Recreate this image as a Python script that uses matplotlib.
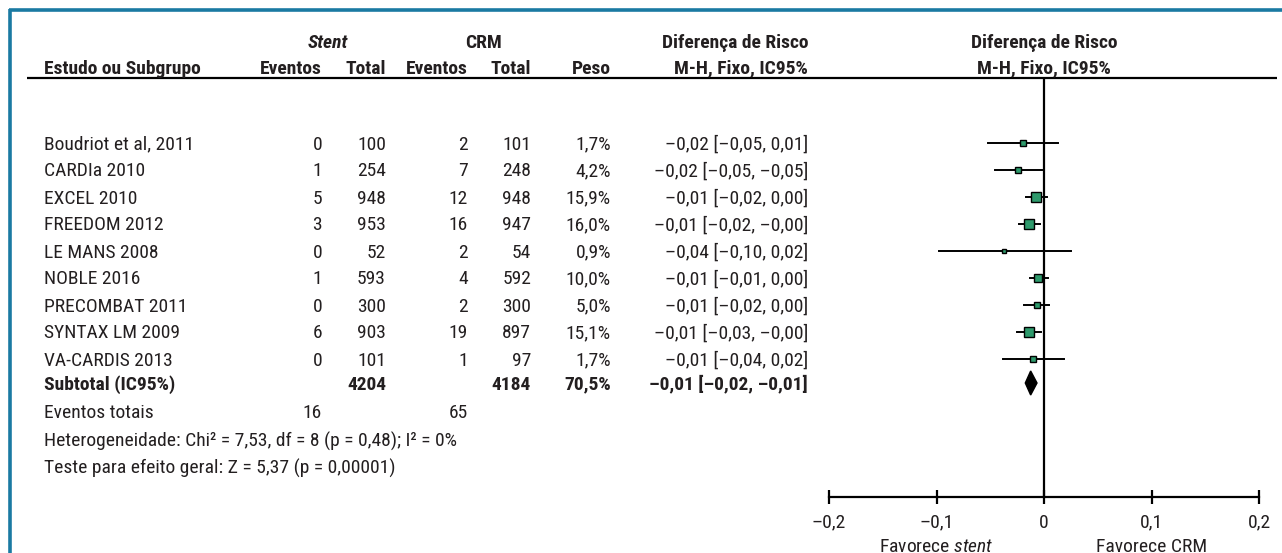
import matplotlib
matplotlib.use("Agg")
import matplotlib.pyplot as plt
from matplotlib import font_manager
from matplotlib.patches import Polygon

# === DADOS ===
estudos = ["Boudriot et al, 2011", "CARDIa 2010", "EXCEL 2010", "FREEDOM 2012",
           "LE MANS 2008", "NOBLE 2016", "PRECOMBAT 2011", "SYNTAX LM 2009",
           "VA-CARDIS 2013"]
eventos_stent = [0, 1, 5, 3, 0, 1, 0, 6, 0]
total_stent = [100, 254, 948, 953, 52, 593, 300, 903, 101]
eventos_crm = [2, 7, 12, 16, 2, 4, 2, 19, 1]
total_crm = [101, 248, 948, 947, 54, 592, 300, 897, 97]
peso = [1.7, 4.2, 15.9, 16.0, 0.9, 10.0, 5.0, 15.1, 1.7]
peso_txt = ["1,7%", "4,2%", "15,9%", "16,0%", "0,9%", "10,0%", "5,0%", "15,1%", "1,7%"]
dr = [-0.020, -0.024, -0.0071, -0.0136, -0.037, -0.0052, -0.0062, -0.0143, -0.0102]
dr_inf = [-0.052, -0.046, -0.0164, -0.0229, -0.098, -0.013, -0.0186, -0.0254, -0.038]
dr_sup = [0.013, -0.002, 0.0025, -0.0037, 0.0248, 0.0037, 0.0048, -0.0025, 0.0183]
dr_txt = ["–0,02 [–0,05, 0,01]", "–0,02 [–0,05, –0,05]", "–0,01 [–0,02, 0,00]",
          "–0,01 [–0,02, –0,00]", "–0,04 [–0,10, 0,02]", "–0,01 [–0,01, 0,00]",
          "–0,01 [–0,02, 0,00]", "–0,01 [–0,03, –0,00]", "–0,01 [–0,04, 0,02]"]

sub_total_stent = 4204
sub_total_crm = 4184
sub_peso = "70,5%"
sub_dr = -0.0124
sub_inf = -0.0174
sub_sup = -0.0065
sub_txt = "–0,01 [–0,02, –0,01]"
eventos_totais = [16, 65]

ticks = [-0.2, -0.1, 0, 0.1, 0.2]
tick_labels = ["–0,2", "–0,1", "0", "0,1", "0,2"]

# === ESTILO ===
# fonte estreita tipo Arial Narrow, se houver
instaladas = {f.name for f in font_manager.fontManager.ttflist}
FONTE = next((n for n in ["Arial Narrow", "Liberation Sans Narrow", "Roboto Condensed",
                          "Archivo Narrow", "PT Sans Narrow", "Sofia Sans Condensed"]
              if n in instaladas), "DejaVu Sans")
plt.rcParams["font.family"] = [FONTE, "DejaVu Sans"]
plt.rcParams["font.stretch"] = "condensed"
plt.rcParams["mathtext.fontset"] = "custom"
plt.rcParams["mathtext.rm"] = FONTE
plt.rcParams["mathtext.it"] = FONTE + ":italic"
FS = 14
COR_TXT = "#231f20"
VERDE = "#2e9a6c"
AZUL = "#1a7aa2"

W, H = 1282, 553
fig = plt.figure(figsize=(W / 100, H / 100), dpi=100)
fig.patch.set_facecolor("white")

# eixo de fundo em pixels para o texto da tabela
ax = fig.add_axes([0, 0, 1, 1])
ax.set_xlim(0, W)
ax.set_ylim(H, 0)
ax.axis("off")

# moldura azul (topo e esquerda)
ax.plot([9, W], [9.5, 9.5], color=AZUL, lw=2.6, solid_capstyle="butt")
ax.plot([9.5, 9.5], [9, H], color=AZUL, lw=2.6, solid_capstyle="butt")

# colunas (borda direita)
X_NOME = 44
X_EV_S, X_TOT_S, X_EV_C, X_TOT_C, X_PESO, X_DR = 322, 386, 468, 531, 611, 808
Y_H1, Y_H2, Y_LINHA = 42, 67, 78
Y0, DY = 143, 27.0
Y_SUB = 383
Y_EVT, Y_HET, Y_TESTE = 412, 440, 467
BASE = 6.5  # deslocamento centro -> linha de base


def txt(x, y, s, ha="right", bold=False, italic=False):
    ax.text(x, y + BASE, s, ha=ha, va="baseline", fontsize=FS, color=COR_TXT,
            fontweight="bold" if bold else "normal",
            fontstyle="italic" if italic else "normal")


# cabeçalho
txt(328, Y_H1, "Stent", ha="center", bold=True, italic=True)
txt(484, Y_H1, "CRM", ha="center", bold=True)
txt(X_DR, Y_H1, "Diferença de Risco", bold=True)
txt(1044, Y_H1, "Diferença de Risco", ha="center", bold=True)
txt(X_NOME, Y_H2, "Estudo ou Subgrupo", ha="left", bold=True)
txt(X_EV_S, Y_H2, "Eventos", bold=True)
txt(X_TOT_S, Y_H2, "Total", bold=True)
txt(X_EV_C, Y_H2, "Eventos", bold=True)
txt(X_TOT_C, Y_H2, "Total", bold=True)
txt(X_PESO, Y_H2, "Peso", bold=True)
txt(X_DR, Y_H2, "M-H, Fixo, IC95%", bold=True)
txt(1044, Y_H2, "M-H, Fixo, IC95%", ha="center", bold=True)
ax.plot([27, 1277], [Y_LINHA, Y_LINHA], color="black", lw=1.6, solid_capstyle="butt")

# linhas dos estudos
linhas_y = [Y0 + DY * i for i in range(len(estudos))]
for i, y in enumerate(linhas_y):
    txt(X_NOME, y, estudos[i], ha="left")
    txt(X_EV_S, y, str(eventos_stent[i]))
    txt(X_TOT_S, y, str(total_stent[i]))
    txt(X_EV_C, y, str(eventos_crm[i]))
    txt(X_TOT_C, y, str(total_crm[i]))
    txt(X_PESO, y, peso_txt[i])
    txt(X_DR, y, dr_txt[i])

# subtotal e estatísticas
txt(X_NOME, Y_SUB, "Subtotal (IC95%)", ha="left", bold=True)
txt(X_TOT_S, Y_SUB, str(sub_total_stent), bold=True)
txt(X_TOT_C, Y_SUB, str(sub_total_crm), bold=True)
txt(X_PESO, Y_SUB, sub_peso, bold=True)
txt(X_DR, Y_SUB, sub_txt, bold=True)
txt(X_NOME, Y_EVT, "Eventos totais", ha="left")
txt(X_EV_S, Y_EVT, str(eventos_totais[0]))
txt(X_EV_C, Y_EVT, str(eventos_totais[1]))
txt(X_NOME, Y_HET, "Heterogeneidade: Chi² = 7,53, df = 8 (p = 0,48); I² = 0%", ha="left")
txt(X_NOME, Y_TESTE, "Teste para efeito geral: Z = 5,37 (p = 0,00001)", ha="left")

# === FOREST PLOT ===
fx = fig.add_axes([829 / W, 0, 430 / W, 1])
fx.set_xlim(-0.2, 0.2)
fx.set_ylim(H, 0)
fx.patch.set_alpha(0)
for s in ["top", "left", "right"]:
    fx.spines[s].set_visible(False)
fx.spines["bottom"].set_position(("data", 497))
fx.spines["bottom"].set_linewidth(1.6)
fx.set_yticks([])
fx.set_xticks(ticks)
fx.set_xticklabels(tick_labels, fontsize=FS, color=COR_TXT)
fx.tick_params(axis="x", direction="inout", length=10, width=1.6, pad=7)

# linha de efeito nulo
fx.vlines(0, Y_LINHA, 497, color="black", lw=1.6)

for i, y in enumerate(linhas_y):
    fx.plot([dr_inf[i], dr_sup[i]], [y, y], color="black", lw=1.4, zorder=2)
    lado = (3.5 + 1.45 * peso[i] ** 0.5) * 0.72
    fx.plot(dr[i], y, marker="s", ms=lado, mfc=VERDE, mec="black", mew=1.0, zorder=3)

diamante = Polygon([(sub_inf, Y_SUB), (sub_dr, Y_SUB - 12), (sub_sup, Y_SUB),
                    (sub_dr, Y_SUB + 12)], closed=True, facecolor="black",
                   edgecolor="black", zorder=3)
fx.add_patch(diamante)

fx.text(-0.1, 545 + BASE, r"Favorece $\mathit{stent}$", ha="center", va="baseline",
        fontsize=FS, color=COR_TXT)
fx.text(0.1, 545 + BASE, "Favorece CRM", ha="center", va="baseline", fontsize=FS,
        color=COR_TXT)

fig.savefig("out.png", dpi=100)
